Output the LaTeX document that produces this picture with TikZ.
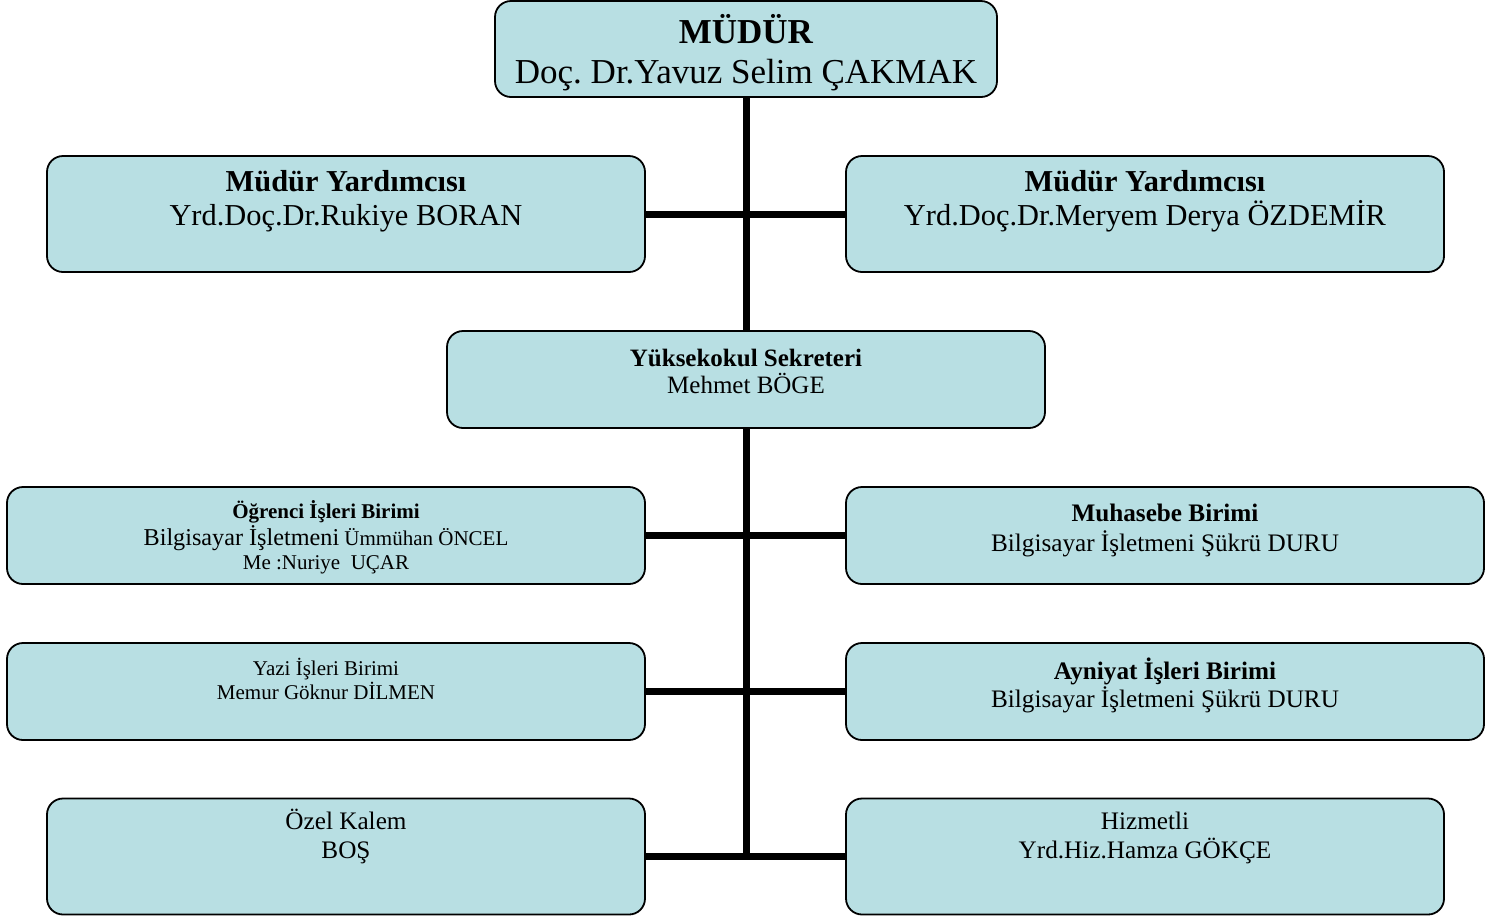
\documentclass[tikz,border=0pt]{standalone}
\usepackage{fontspec}
\setmainfont{Liberation Serif}
\frenchspacing
\definecolor{boxcyan}{RGB}{184,223,227}

\begin{document}
\begin{tikzpicture}[x=0.5pt,y=-0.5pt,
  unit/.style={draw=black,line width=0.9pt,fill=boxcyan,rounded corners=8pt,inner sep=0pt},
  headbox/.style={unit,minimum width=251pt,minimum height=48pt},
  bigbox/.style={unit,minimum width=299pt,minimum height=58pt},
  midbox/.style={unit,minimum width=299pt,minimum height=48.5pt},
  widebox/.style={unit,minimum width=319pt,minimum height=48.5pt},
  txt/.style={align=center,inner sep=0pt},
  link/.style={line width=3.5pt}]
\useasboundingbox (0,0) rectangle (1492,917);
% boxes
\node[headbox] (mudur) at (746,49) {};
\node[bigbox] (yrdL) at (346,214) {};
\node[bigbox] (yrdR) at (1145,214) {};
\node[midbox] (ys) at (746,379.5) {};
\node[widebox] (ogr) at (326,535.5) {};
\node[widebox] (muh) at (1165,535.5) {};
\node[widebox] (yazi) at (326,691.5) {};
\node[widebox] (ayn) at (1165,691.5) {};
\node[bigbox] (ozel) at (346,856.5) {};
\node[bigbox] (hiz) at (1145,856.5) {};
% texts
\node[txt,font=\fontsize{17.5}{20}\selectfont] (mudurT) at (746,52.5)
  {\textbf{MÜDÜR}\\Doç. Dr.Yavuz Selim ÇAKMAK};
\node[txt,font=\fontsize{15.2}{17}\selectfont] (yrdLT) at (346,201)
  {\textbf{Müdür Yardımcısı}\\Yrd.Doç.Dr.Rukiye BORAN};
\node[txt,font=\fontsize{15.2}{17}\selectfont] (yrdRT) at (1145,201)
  {\textbf{Müdür Yardımcısı}\\Yrd.Doç.Dr.Meryem Derya ÖZDEMİR};
\node[txt,font=\fontsize{12.5}{13.5}\selectfont] (ysT) at (746,371)
  {\textbf{Yüksekokul Sekreteri}\\Mehmet BÖGE};
\node[txt,font=\fontsize{10.5}{12}\selectfont] (ogrT) at (326,537)
  {\textbf{Öğrenci İşleri Birimi}\\{\fontsize{12.1}{12}\selectfont Bilgisayar İşletmeni} Ümmühan ÖNCEL\\Me :Nuriye\ \ UÇAR};
\node[txt,font=\fontsize{12.6}{15}\selectfont] (muhT) at (1165,530)
  {\textbf{Muhasebe Birimi}\\Bilgisayar İşletmeni Şükrü DURU};
\node[txt,font=\fontsize{10.5}{12}\selectfont] (yaziT) at (326,679)
  {Yazi İşleri Birimi\\Memur Göknur DİLMEN};
\node[txt,font=\fontsize{12.6}{14}\selectfont] (aynT) at (1165,685)
  {\textbf{Ayniyat İşleri Birimi}\\Bilgisayar İşletmeni Şükrü DURU};
\node[txt,font=\fontsize{12.6}{14.5}\selectfont] (ozelT) at (346,836)
  {Özel Kalem\\BOŞ};
\node[txt,font=\fontsize{12.6}{14.5}\selectfont] (hizT) at (1145,838)
  {Hizmetli\\Yrd.Hiz.Hamza GÖKÇE};
% connectors
\coordinate (alt) at (746,857);
\draw[link] (mudur.south) -- (ys.north);
\draw[link] (yrdL.east) -- (yrdR.west);
\draw[link] (ys.south) -- (alt);
\draw[link] (ogr.east) -- (muh.west);
\draw[link] (yazi.east) -- (ayn.west);
\draw[link] (ozel.east) -- (hiz.west);
\end{tikzpicture}
\end{document}
